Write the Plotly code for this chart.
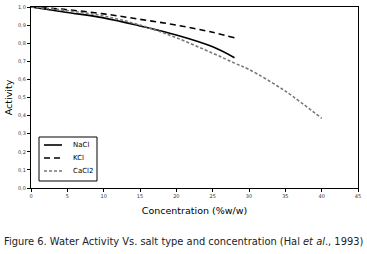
import plotly.graph_objects as go

nacl_x = [0, 5, 10, 15, 20, 25, 28]
nacl_y = [1.0, 0.97, 0.94, 0.895, 0.845, 0.78, 0.72]
kcl_x = [0, 5, 10, 15, 20, 25, 28]
kcl_y = [1.0, 0.985, 0.962, 0.932, 0.90, 0.86, 0.83]
cacl2_x = [0, 5, 10, 15, 20, 25, 28, 30, 35, 40]
cacl2_y = [1.0, 0.98, 0.95, 0.90, 0.83, 0.745, 0.69, 0.655, 0.535, 0.385]

x_ticks = [0, 5, 10, 15, 20, 25, 30, 35, 40, 45]
y_ticks = [0.0, 0.1, 0.2, 0.3, 0.4, 0.5, 0.6, 0.7, 0.8, 0.9, 1.0]

series_names = ["NaCl", "KCl", "CaCl2"]
series_colors = ["black", "black", "#777777"]
series_dash = ["solid", "6px,4px", "3px,2px"]

fig = go.Figure()
for name, xs, ys, col, dash in zip(series_names, [nacl_x, kcl_x, cacl2_x],
                                   [nacl_y, kcl_y, cacl2_y], series_colors, series_dash):
    fig.add_trace(go.Scatter(x=xs, y=ys, mode="lines", name=name, showlegend=False,
                             line=dict(color=col, width=1.6, dash=dash, shape="spline", smoothing=1.0)))

axis_common = dict(showline=True, linecolor="black", linewidth=1.2, mirror=True,
                   ticks="outside", ticklen=3, tickwidth=1, tickcolor="black",
                   showgrid=False, zeroline=False, automargin=False,
                   tickfont=dict(family="DejaVu Sans", size=5, color="#333333"))

fig.update_xaxes(range=[0, 45], tickvals=x_ticks, ticktext=[str(v) for v in x_ticks],
                 title=dict(text="Concentration (%w/w)", font=dict(family="DejaVu Sans", size=9.5, color="black"),
                            standoff=9),
                 **axis_common)
fig.update_yaxes(range=[0, 1.0], tickvals=y_ticks, ticktext=[f"{v:.1f}".replace(".", ",") for v in y_ticks],
                 title=dict(text="Activity", font=dict(family="DejaVu Sans", size=9.5, color="black"),
                            standoff=3),
                 **axis_common)

# manual legend box (paper coordinates; plot spans 327 x 181 px)
pw, ph = 327.0, 181.0
def px(x):
    return (x - 31) / pw
def py(y):
    return (188 - y) / ph

fig.add_shape(type="rect", xref="paper", yref="paper", x0=px(39), x1=px(97), y0=py(181), y1=py(137),
              line=dict(color="black", width=1), fillcolor="white", layer="above")
for i, (name, col, dash) in enumerate(zip(series_names, series_colors, series_dash)):
    yy = 145 + 13 * i
    fig.add_shape(type="line", xref="paper", yref="paper", x0=px(44), x1=px(62), y0=py(yy), y1=py(yy),
                  line=dict(color=col, width=1.6, dash=dash), layer="above")
    fig.add_annotation(text=name, xref="paper", yref="paper", x=px(71), y=py(yy),
                       xanchor="left", yanchor="middle", showarrow=False,
                       font=dict(family="DejaVu Sans", size=7, color="black"))

fig.add_annotation(text="Figure 6. Water Activity Vs. salt type and concentration (Hal <i>et al</i>., 1993)",
                   xref="paper", yref="paper", x=px(2), y=py(241), xanchor="left", yanchor="middle",
                   showarrow=False, font=dict(family="DejaVu Sans", size=9.9, color="#222222"))

fig.update_layout(
    width=367, height=254,
    margin=dict(l=31, r=9, t=7, b=66, autoexpand=False),
    paper_bgcolor="white", plot_bgcolor="white",
    showlegend=False,
)

fig.write_html("out.html", config={"displayModeBar": False},
               post_script="document.body.style.margin='0';document.body.style.padding='0';")
